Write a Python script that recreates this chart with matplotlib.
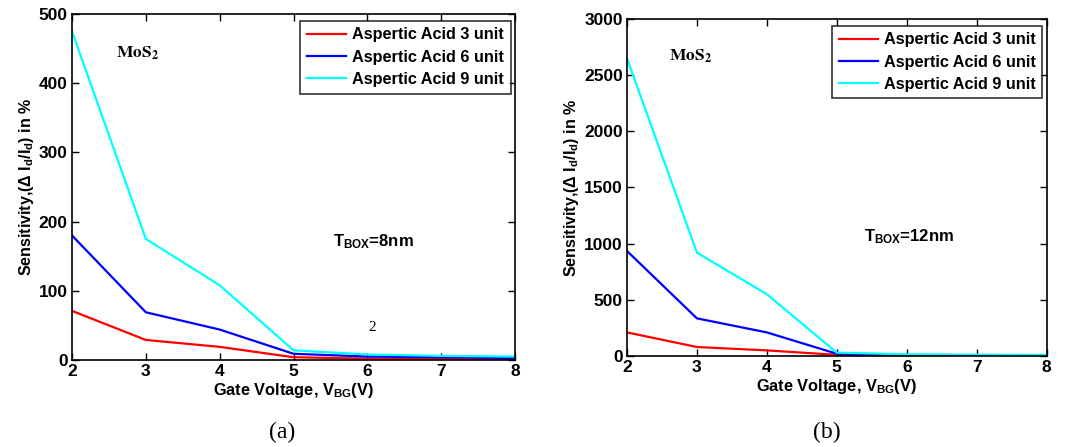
import matplotlib
matplotlib.use("Agg")
import matplotlib.pyplot as plt

plt.rcParams['font.family'] = ['Liberation Sans', 'DejaVu Sans']
plt.rcParams['font.weight'] = 'bold'
plt.rcParams['mathtext.fontset'] = 'custom'
plt.rcParams['mathtext.rm'] = 'Liberation Sans:bold'
plt.rcParams['mathtext.it'] = 'Liberation Sans:bold'
plt.rcParams['mathtext.bf'] = 'Liberation Sans:bold'

vbg = [2, 3, 4, 5, 6, 7, 8]
labels = ['Aspertic Acid 3 unit', 'Aspertic Acid 6 unit', 'Aspertic Acid 9 unit']
colors = ['#ff0000', '#0000ff', '#00ffff']

# panel (a), T_BOX = 8nm
a_3unit = [71, 29, 19, 4, 2, 1.5, 1]
a_6unit = [180, 69, 44, 9, 5, 4, 3]
a_9unit = [475, 175, 108, 14, 8, 6, 5]

# panel (b), T_BOX = 12nm
b_3unit = [210, 80, 50, 10, 5, 3, 2]
b_6unit = [935, 335, 210, 20, 8, 5, 4]
b_9unit = [2650, 920, 550, 30, 15, 12, 10]

fig = plt.figure(figsize=(10.65, 4.47), dpi=100)
ax1 = fig.add_axes([0.0676, 0.1946, 0.416, 0.774])
ax2 = fig.add_axes([0.5887, 0.2036, 0.394, 0.754])


def setup(ax, series, ymax, ystep, tbox, tpos):
    for y, c, lab in zip(series, colors, labels):
        ax.plot(vbg, y, color=c, lw=1.6, label=lab)
    ax.set_xlim(2, 8)
    ax.set_ylim(0, ymax)
    ax.set_xticks(vbg)
    ax.set_yticks(range(0, ymax + 1, ystep))
    ax.tick_params(direction='in', top=True, right=True, labelsize=12.5, length=5, width=1, pad=3)
    for s in ax.spines.values():
        s.set_linewidth(1.2)
    ax.set_xlabel('Gate Voltage, V$_{BG}$(V)', fontsize=11.8, fontweight='bold', labelpad=1)
    ax.set_ylabel('Sensitivity,($\\Delta$ I$_{d}$/I$_{d}$) in %', fontsize=11.5, fontweight='bold', labelpad=2)
    leg = ax.legend(loc='upper right', bbox_to_anchor=(0.99, 0.98), fontsize=11.7, frameon=True,
                    fancybox=False, edgecolor='black', handlelength=2.4, borderpad=0.4,
                    labelspacing=0.45, handletextpad=0.4, borderaxespad=0)
    leg.get_frame().set_linewidth(1.2)
    ax.text(0.1, 0.875, r'$\mathbf{MoS_2}$', transform=ax.transAxes, fontsize=12.5,
            math_fontfamily='stix')
    ax.text(tpos[0], tpos[1], tbox, transform=ax.transAxes, fontsize=12, fontweight='bold')


setup(ax1, [a_3unit, a_6unit, a_9unit], 500, 100, 'T$_{BOX}$=8nm', (0.59, 0.33))
setup(ax2, [b_3unit, b_6unit, b_9unit], 3000, 500, 'T$_{BOX}$=12nm', (0.565, 0.34))

ax1.text(0.67, 0.085, '2', transform=ax1.transAxes, fontsize=11, family='Liberation Serif',
         fontweight='normal')

fig.text(0.265, 0.02, '(a)', fontsize=17, family='Liberation Serif', fontweight='normal', ha='center')
fig.text(0.776, 0.02, '(b)', fontsize=17, family='Liberation Serif', fontweight='normal', ha='center')

fig.savefig('out.png', dpi=100)
